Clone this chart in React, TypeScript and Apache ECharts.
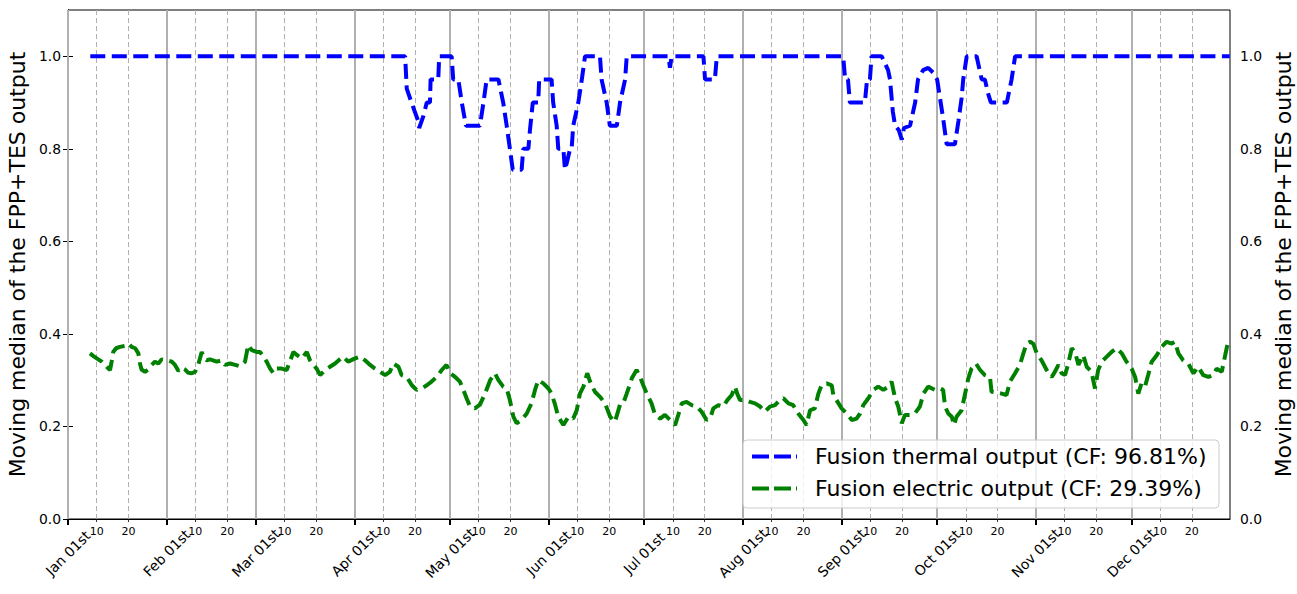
import React, { useEffect, useRef } from "react";
import * as echarts from "echarts";

const MONTH_LABELS = ["Jan 01st", "Feb 01st", "Mar 01st", "Apr 01st", "May 01st", "Jun 01st", "Jul 01st", "Aug 01st", "Sep 01st", "Oct 01st", "Nov 01st", "Dec 01st"];
const MONTH_START_DAYS = [0, 31, 59, 90, 120, 151, 181, 212, 243, 273, 304, 334];
const MINOR_TICK_LABELS = ["10", "20"];
const MINOR_TICK_OFFSETS = [9, 19];
const Y_TICKS = [0, 0.2, 0.4, 0.6, 0.8, 1.0];
const YEAR_DAYS = 365;
const Y_MAX = 1.1;

const THERMAL_NAME = "Fusion thermal output (CF: 96.81%)";
const ELECTRIC_NAME = "Fusion electric output (CF: 29.39%)";
const AXIS_NAME = "Moving median of the FPP+TES output";

const THERMAL_DAYS = [7.0, 105.9, 106.4, 107.9, 110.0, 110.3, 111.6, 112.7, 113.7, 113.9, 116.3, 116.6, 120.5, 121.0, 122.6, 123.7, 125.0, 129.4, 130.5, 131.5, 135.2, 136.7, 137.8, 138.8, 139.7, 142.5, 143.0, 144.6, 145.1, 146.0, 147.7, 148.0, 151.9, 152.4, 153.5, 154.0, 155.6, 156.1, 156.7, 157.7, 158.2, 158.7, 160.3, 161.4, 162.4, 167.1, 167.6, 169.2, 170.2, 172.4, 173.4, 175.0, 175.5, 188.6, 189.1, 189.6, 199.6, 200.1, 203.2, 203.8, 243.5, 244.1, 245.0, 245.6, 250.3, 251.0, 251.9, 252.4, 255.6, 257.6, 258.2, 259.1, 259.8, 261.0, 261.9, 262.6, 264.5, 266.1, 267.0, 268.6, 270.2, 271.7, 273.0, 273.9, 274.9, 276.0, 278.6, 279.7, 280.7, 281.2, 282.3, 285.4, 287.0, 288.0, 289.0, 289.9, 294.9, 296.4, 297.5, 364.9];
const THERMAL_VALUES = [1.0, 1.0, 0.93, 0.9, 0.86, 0.845, 0.87, 0.9, 0.9, 0.95, 0.95, 1.0, 1.0, 0.95, 0.95, 0.9, 0.85, 0.85, 0.9, 0.95, 0.95, 0.9, 0.85, 0.8, 0.755, 0.755, 0.8, 0.8, 0.84, 0.9, 0.9, 0.95, 0.95, 0.9, 0.85, 0.8, 0.8, 0.755, 0.77, 0.8, 0.8, 0.85, 0.9, 0.95, 1.0, 1.0, 0.95, 0.9, 0.85, 0.85, 0.9, 0.95, 1.0, 1.0, 0.975, 1.0, 1.0, 0.95, 0.95, 1.0, 1.0, 0.95, 0.95, 0.9, 0.9, 0.95, 0.95, 1.0, 1.0, 0.97, 0.95, 0.88, 0.85, 0.84, 0.82, 0.845, 0.85, 0.9, 0.95, 0.97, 0.975, 0.965, 0.95, 0.91, 0.865, 0.81, 0.81, 0.86, 0.91, 0.95, 1.0, 1.0, 0.95, 0.95, 0.92, 0.9, 0.9, 0.95, 1.0, 1.0];

const ELECTRIC_DAYS = [
  6.9, 8.0, 9.5, 10.6, 11.6, 12.7, 13.2, 13.7, 14.2, 15.1, 16.3, 17.9, 19.0, 20.0, 21.1, 22.1, 22.6, 23.1, 24.2, 25.2, 26.3, 27.3, 28.4, 29.4, 31.0, 32.6, 33.6, 34.7, 35.7, 36.8, 37.8, 38.9, 39.9, 40.9, 42.0, 42.7, 43.6, 44.6, 46.7, 48.3, 49.3, 50.9, 52.5, 54.0, 55.6, 56.6, 57.7, 59.3, 60.3, 61.4, 62.4, 63.5, 64.5, 65.6, 67.1, 68.7, 69.7, 70.8, 72.0, 73.4, 75.0, 76.0, 77.1, 78.1, 79.2, 80.7, 82.3, 83.9, 85.4, 86.5, 88.0,
  90.2, 91.7, 93.3, 94.9, 96.4, 98.0, 99.6, 101.1, 102.2, 103.8, 104.8, 106.4, 108.0, 109.5, 111.1, 112.7, 114.2, 115.8, 117.4, 118.9, 120.0, 121.6, 123.1, 124.2, 125.2, 126.3, 127.8, 129.4, 131.0, 132.6, 134.1, 135.2, 136.7, 137.8, 138.8, 139.9, 140.9, 142.5, 144.1, 145.6, 146.7, 147.7, 149.3, 150.9, 151.9, 153.0, 154.0, 155.6, 157.2, 158.7, 159.8, 160.8, 161.9, 163.1, 164.0, 165.5, 167.1, 168.7, 170.3, 171.8, 173.4, 174.4, 175.5, 177.1, 178.6, 179.7,
  180.7, 181.8, 183.3, 184.4, 186.0, 187.5, 189.1, 190.7, 191.7, 192.8, 194.3, 195.9, 197.5, 199.0, 200.6, 201.7, 202.7, 204.3, 205.8, 207.1, 208.5, 209.5, 210.2, 211.1, 212.6, 214.2, 215.8, 217.4, 218.9, 220.5, 222.1, 223.6, 224.7, 226.3, 227.8, 229.4, 231.0, 232.0, 233.1, 234.6, 235.7, 236.7, 238.3, 239.9, 240.4, 241.4, 243.0, 244.6, 246.2, 247.7, 248.8, 249.8, 251.4, 253.0, 254.5, 256.1, 257.7, 258.7, 259.8, 260.8, 261.9, 262.9, 264.5, 266.0, 267.6, 268.7, 270.2,
  272.3, 273.9, 274.9, 275.5, 276.5, 277.6, 278.3, 279.1, 280.7, 281.7, 282.8, 283.8, 285.2, 286.5, 288.0, 289.6, 290.1, 291.7, 293.3, 294.8, 295.9, 297.5, 299.0, 300.1, 301.1, 302.2, 303.2, 304.3, 305.8, 307.4, 309.0, 310.0, 311.1, 312.1, 313.2, 314.2, 315.3, 316.3, 317.4, 318.9, 320.0, 321.5, 322.6, 323.6, 324.7, 326.3, 327.8, 329.4, 331.0, 332.5, 334.1, 335.2, 336.2, 337.2, 338.3, 339.3, 340.4, 342.0, 343.5, 345.1, 346.7, 347.7, 348.8, 350.3, 351.9, 353.5, 355.0, 356.6, 358.2, 359.8, 360.8, 362.4, 363.4, 364.5,
];
const ELECTRIC_VALUES = [
  0.358, 0.352, 0.345, 0.34, 0.333, 0.325, 0.322, 0.34, 0.361, 0.369, 0.372, 0.374, 0.379, 0.372, 0.369, 0.358, 0.336, 0.323, 0.318, 0.323, 0.333, 0.34, 0.336, 0.345, 0.343, 0.34, 0.333, 0.32, 0.327, 0.323, 0.316, 0.315, 0.318, 0.333, 0.361, 0.347, 0.343, 0.345, 0.34, 0.343, 0.333, 0.336, 0.333, 0.33, 0.34, 0.376, 0.365, 0.361, 0.361, 0.351, 0.34, 0.325, 0.315, 0.325, 0.325, 0.322, 0.34, 0.361, 0.354, 0.347, 0.361, 0.343, 0.333, 0.325, 0.311, 0.322, 0.329, 0.336, 0.345, 0.351, 0.34,
  0.347, 0.351, 0.343, 0.333, 0.325, 0.318, 0.311, 0.318, 0.336, 0.329, 0.311, 0.307, 0.289, 0.279, 0.282, 0.289, 0.297, 0.307, 0.322, 0.333, 0.315, 0.307, 0.297, 0.279, 0.261, 0.243, 0.239, 0.247, 0.271, 0.3, 0.315, 0.3, 0.286, 0.282, 0.257, 0.221, 0.207, 0.214, 0.228, 0.25, 0.279, 0.3, 0.293, 0.282, 0.271, 0.247, 0.221, 0.203, 0.221, 0.217, 0.235, 0.271, 0.286, 0.315, 0.297, 0.275, 0.264, 0.25, 0.221, 0.21, 0.247, 0.25, 0.271, 0.304, 0.322, 0.307,
  0.289, 0.271, 0.25, 0.225, 0.217, 0.225, 0.214, 0.203, 0.225, 0.25, 0.253, 0.246, 0.243, 0.232, 0.214, 0.217, 0.239, 0.246, 0.243, 0.257, 0.268, 0.286, 0.271, 0.257, 0.257, 0.253, 0.25, 0.243, 0.232, 0.243, 0.246, 0.257, 0.261, 0.25, 0.246, 0.228, 0.214, 0.203, 0.235, 0.239, 0.271, 0.289, 0.293, 0.289, 0.268, 0.257, 0.239, 0.228, 0.214, 0.217, 0.228, 0.246, 0.261, 0.279, 0.286, 0.279, 0.286, 0.297, 0.261, 0.243, 0.207, 0.225, 0.225, 0.228, 0.243, 0.271, 0.286,
  0.279, 0.282, 0.279, 0.243, 0.228, 0.221, 0.203, 0.221, 0.235, 0.268, 0.304, 0.325, 0.336, 0.322, 0.311, 0.307, 0.275, 0.273, 0.271, 0.268, 0.297, 0.315, 0.333, 0.358, 0.379, 0.383, 0.379, 0.358, 0.343, 0.322, 0.307, 0.318, 0.333, 0.315, 0.311, 0.336, 0.369, 0.361, 0.333, 0.354, 0.329, 0.318, 0.282, 0.322, 0.34, 0.351, 0.361, 0.369, 0.358, 0.34, 0.325, 0.307, 0.271, 0.293, 0.286, 0.311, 0.34, 0.354, 0.372, 0.383, 0.379, 0.383, 0.358, 0.343, 0.336, 0.315, 0.329, 0.311, 0.307, 0.311, 0.325, 0.318, 0.351, 0.387,
];

const THERMAL_COLOR = "#0000ff";
const ELECTRIC_COLOR = "#008000";
const FONT = "DejaVu Sans";

export default function App() {
  const ref = useRef<HTMLDivElement>(null);

  useEffect(() => {
    if (!ref.current) return;
    const chart = echarts.init(ref.current, undefined, { renderer: "svg" });

    const minorDays = MONTH_START_DAYS.flatMap((m) => MINOR_TICK_OFFSETS.map((o) => m + o));
    const monthLabel = (v: number) => {
      const i = MONTH_START_DAYS.indexOf(Math.round(v));
      return i >= 0 ? MONTH_LABELS[i] : "";
    };
    const minorLabel = (v: number) => {
      const r = Math.round(v);
      for (const m of MONTH_START_DAYS) {
        const k = MINOR_TICK_OFFSETS.indexOf(r - m);
        if (k >= 0) return MINOR_TICK_LABELS[k];
      }
      return "";
    };

    const gridLines = [
      ...MONTH_START_DAYS.map((d) => ({ xAxis: d, lineStyle: { color: "#b0b0b0", width: 2, type: "solid" } })),
      ...minorDays.map((d) => ({ xAxis: d, lineStyle: { color: "#b0b0b0", width: 1, type: [5, 3] } })),
    ];

    const yAxis = (position: "left" | "right") => ({
      type: "value",
      position,
      min: 0,
      max: Y_MAX,
      name: AXIS_NAME,
      nameLocation: "middle",
      nameGap: position === "left" ? 40 : 35,
      nameRotate: 90,
      nameTextStyle: { fontFamily: FONT, fontSize: 22, color: "#000" },
      axisLine: { show: true, lineStyle: { color: "#000", width: 1 } },
      axisTick: { show: true, customValues: Y_TICKS, length: 5, lineStyle: { color: "#000", width: 1 } },
      axisLabel: {
        customValues: Y_TICKS,
        formatter: (v: number) => v.toFixed(1),
        fontFamily: FONT,
        fontSize: 13.9,
        color: "#000",
        margin: position === "left" ? 7 : 10,
      },
      splitLine: { show: false },
    });

    const legendRows = [
      { name: THERMAL_NAME, color: THERMAL_COLOR, y: 456.5 },
      { name: ELECTRIC_NAME, color: ELECTRIC_COLOR, y: 488.5 },
    ];

    chart.setOption({
      animation: false,
      backgroundColor: "#ffffff",
      grid: {
        left: 68,
        top: 10,
        right: 67,
        bottom: 75,
        containLabel: false,
        outerBoundsMode: "none",
        show: true,
        borderColor: "#000",
        borderWidth: 1,
        backgroundColor: "transparent",
      },
      xAxis: [
        {
          type: "value",
          min: 0,
          max: YEAR_DAYS,
          position: "bottom",
          axisLine: { show: true, onZero: false, lineStyle: { color: "#000", width: 1 } },
          axisTick: { show: true, customValues: MONTH_START_DAYS, length: 6, lineStyle: { color: "#000", width: 2 } },
          axisLabel: {
            customValues: MONTH_START_DAYS,
            formatter: monthLabel,
            rotate: 45,
            align: "center",
            verticalAlign: "middle",
            margin: 34,
            fontFamily: FONT,
            fontSize: 13.9,
            color: "#000",
          },
          splitLine: { show: false },
        },
        {
          type: "value",
          min: 0,
          max: YEAR_DAYS,
          position: "bottom",
          offset: 0,
          axisLine: { show: false },
          axisTick: { show: true, customValues: minorDays, length: 3, lineStyle: { color: "#000", width: 0.8 } },
          axisLabel: {
            customValues: minorDays,
            formatter: minorLabel,
            margin: 7,
            fontFamily: FONT,
            fontSize: 11,
            color: "#000",
          },
          splitLine: { show: false },
        },
      ],
      yAxis: [yAxis("left"), yAxis("right")],
      series: [
        {
          type: "line",
          name: THERMAL_NAME,
          xAxisIndex: 0,
          yAxisIndex: 0,
          data: THERMAL_DAYS.map((d, i) => [d, THERMAL_VALUES[i]]),
          showSymbol: false,
          symbol: "none",
          silent: true,
          z: 3,
          lineStyle: { color: THERMAL_COLOR, width: 4, type: [15, 6.5] },
          itemStyle: { color: THERMAL_COLOR },
        },
        {
          type: "line",
          name: ELECTRIC_NAME,
          xAxisIndex: 0,
          yAxisIndex: 0,
          data: ELECTRIC_DAYS.map((d, i) => [d, ELECTRIC_VALUES[i]]),
          showSymbol: false,
          symbol: "none",
          silent: true,
          z: 3,
          lineStyle: { color: ELECTRIC_COLOR, width: 4, type: [15, 6.5] },
          itemStyle: { color: ELECTRIC_COLOR },
          markLine: {
            silent: true,
            z: 1,
            symbol: ["none", "none"],
            label: { show: false },
            emphasis: { disabled: true },
            data: gridLines,
          },
        },
      ],
      graphic: [
        {
          type: "rect",
          z: 100,
          shape: { x: 743, y: 440, width: 476, height: 68, r: 4 },
          style: { fill: "rgba(255,255,255,0.8)", stroke: "#cccccc", lineWidth: 1 },
        },
        ...legendRows.flatMap((row) => [
          {
            type: "line",
            z: 101,
            shape: { x1: 752, y1: row.y, x2: 797, y2: row.y },
            style: { stroke: row.color, lineWidth: 4, lineDash: [17, 5] },
          },
          {
            type: "text",
            z: 101,
            x: 815,
            y: row.y,
            style: {
              text: row.name,
              fontFamily: FONT,
              fontSize: 22,
              fill: "#000",
              verticalAlign: "middle",
              align: "left",
            },
          },
        ]),
      ],
    });

    return () => {
      chart.dispose();
    };
  }, []);

  return <div ref={ref} style={{ position: "fixed", left: 0, top: 0, width: 1297, height: 594 }} />;
}
